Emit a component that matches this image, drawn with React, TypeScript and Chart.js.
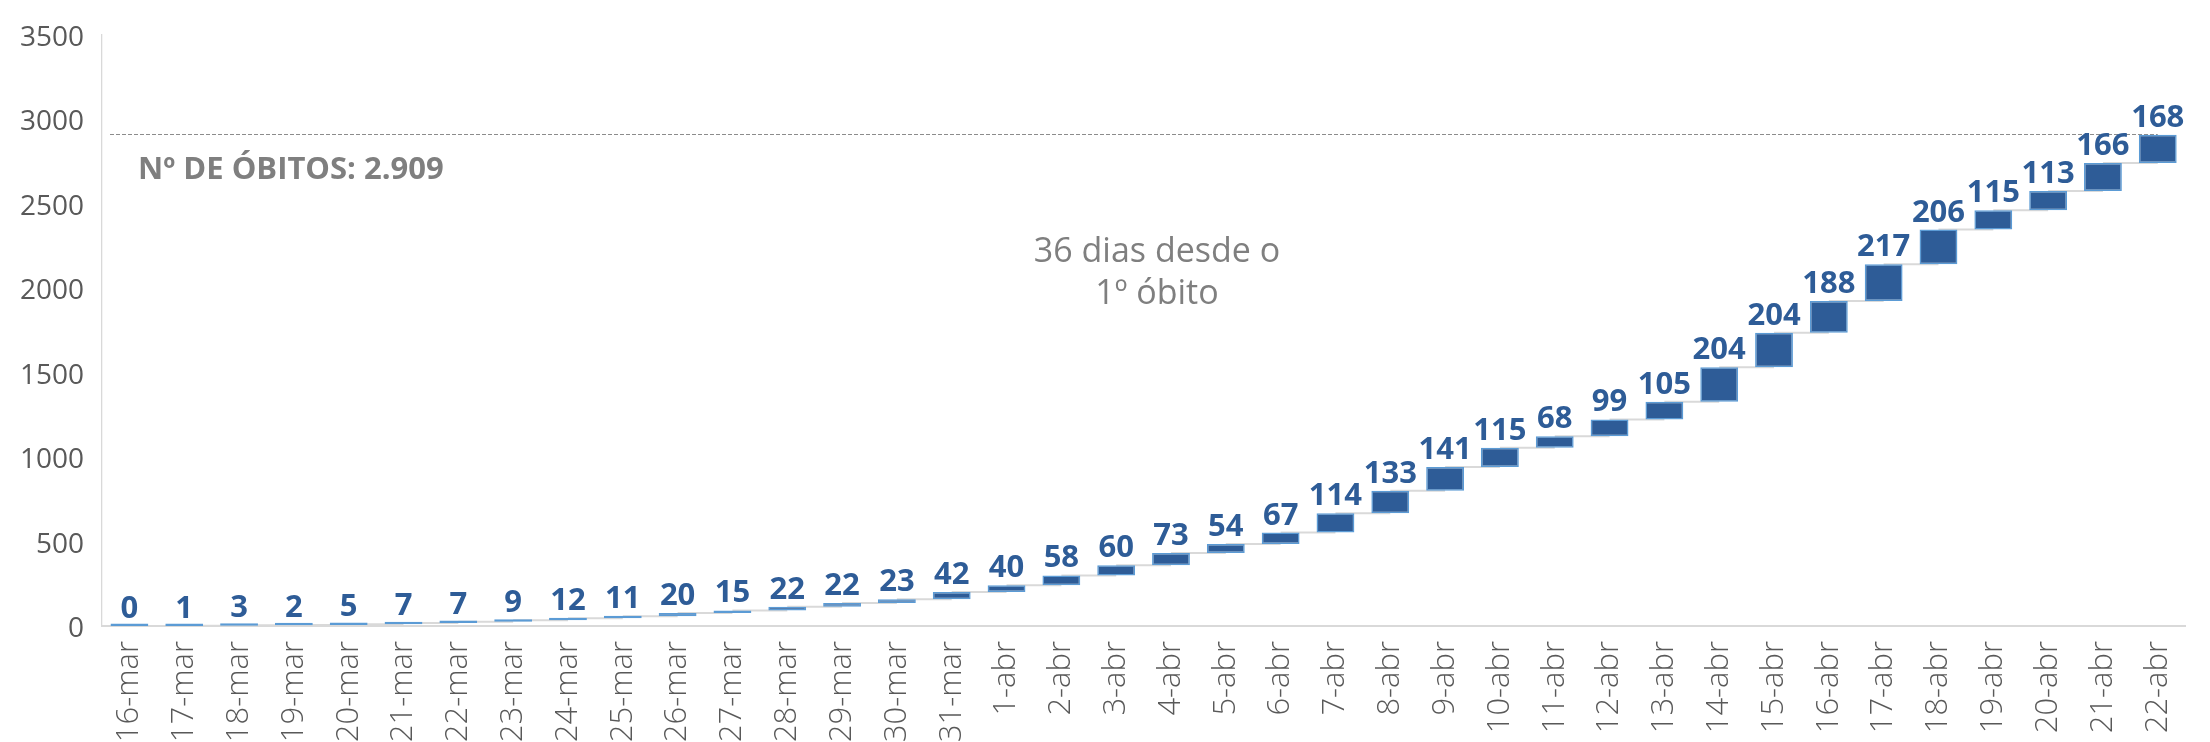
import React, { useEffect, useRef } from "react";
import { Chart, registerables } from "chart.js";

Chart.register(...registerables);

// ---- data ----
const categories: string[] = [
  "16-mar", "17-mar", "18-mar", "19-mar", "20-mar", "21-mar", "22-mar", "23-mar",
  "24-mar", "25-mar", "26-mar", "27-mar", "28-mar", "29-mar", "30-mar", "31-mar",
  "1-abr", "2-abr", "3-abr", "4-abr", "5-abr", "6-abr", "7-abr", "8-abr", "9-abr",
  "10-abr", "11-abr", "12-abr", "13-abr", "14-abr", "15-abr", "16-abr", "17-abr",
  "18-abr", "19-abr", "20-abr", "21-abr", "22-abr",
];
const dailyDeaths: number[] = [
  0, 1, 3, 2, 5, 7, 7, 9, 12, 11, 20, 15, 22, 22, 23, 42,
  40, 58, 60, 73, 54, 67, 114, 133, 141, 115, 68, 99, 105, 204, 204, 188, 217, 206, 115, 113, 166, 168,
];
const yTicks: number[] = [0, 500, 1000, 1500, 2000, 2500, 3000, 3500];
const totalLabel = "Nº DE ÓBITOS: 2.909";
const noteLines: string[] = ["36 dias desde o", "1º óbito"];

// cumulative ranges for the waterfall
const cumulative: number[] = [];
dailyDeaths.reduce((acc, v) => {
  const next = acc + v;
  cumulative.push(next);
  return next;
}, 0);
const floating: [number, number][] = dailyDeaths.map((v, i) => [cumulative[i] - v, cumulative[i]]);
const total = cumulative[cumulative.length - 1];

const FONT = "'Open Sans', 'Noto Sans', sans-serif";
const DARK = "#2E5C97";
const LIGHT = "#5B9BD5";
const GRAY = "#7F7F7F";

const waterfallPlugin = {
  id: "waterfallExtras",
  beforeDatasetsDraw(chart: any) {
    const { ctx, chartArea, scales } = chart;
    const y = scales.y;
    const meta = chart.getDatasetMeta(0);
    ctx.save();
    // connectors
    ctx.strokeStyle = "#D9D9D9";
    ctx.lineWidth = 2;
    for (let i = 0; i < meta.data.length - 1; i++) {
      const py = y.getPixelForValue(cumulative[i]);
      ctx.beginPath();
      ctx.moveTo(meta.data[i].x, py);
      ctx.lineTo(meta.data[i + 1].x, py);
      ctx.stroke();
    }
    // total dashed line
    const ty = Math.round(y.getPixelForValue(total)) - 0.5;
    ctx.strokeStyle = "#8C8C8C";
    ctx.lineWidth = 1.2;
    ctx.setLineDash([4, 2]);
    ctx.beginPath();
    ctx.moveTo(chartArea.left + 8, ty);
    ctx.lineTo(meta.data[meta.data.length - 1].x, ty);
    ctx.stroke();
    ctx.restore();
  },
  afterDatasetsDraw(chart: any) {
    const { ctx, chartArea, scales } = chart;
    const y = scales.y;
    const meta = chart.getDatasetMeta(0);
    ctx.save();
    // data labels
    ctx.fillStyle = DARK;
    ctx.font = `bold 31px ${FONT}`;
    ctx.textAlign = "center";
    ctx.textBaseline = "alphabetic";
    meta.data.forEach((bar: any, i: number) => {
      const top = y.getPixelForValue(cumulative[i]);
      ctx.fillText(String(dailyDeaths[i]), bar.x, top - 8);
    });
    // total label
    ctx.fillStyle = GRAY;
    ctx.font = `bold 31px ${FONT}`;
    ctx.textAlign = "left";
    ctx.fillText(totalLabel, chartArea.left + 36, 179);
    // note
    ctx.font = `34px ${FONT}`;
    ctx.textAlign = "center";
    ctx.fillText(noteLines[0], 1157, 262);
    ctx.fillText(noteLines[1], 1157, 304);
    ctx.restore();
  },
};

export default function App() {
  const canvasRef = useRef<HTMLCanvasElement | null>(null);

  useEffect(() => {
    document.body.style.margin = "0";
    const canvas = canvasRef.current;
    if (!canvas) return;
    const chart = new Chart(canvas, {
      type: "bar",
      data: {
        labels: categories,
        datasets: [
          {
            data: floating as any,
            backgroundColor: DARK,
            borderColor: LIGHT,
            borderWidth: 1.5,
            borderSkipped: false,
            barPercentage: 0.69,
            categoryPercentage: 1,
            minBarLength: 2.5,
          },
        ],
      },
      options: {
        animation: false,
        responsive: false,
        maintainAspectRatio: false,
        layout: { padding: { top: 29, right: 3, left: 0, bottom: 0 } },
        plugins: {
          legend: { display: false },
          tooltip: { enabled: false },
          title: { display: false },
        },
        scales: {
          x: {
            grid: { display: false, drawTicks: false },
            border: { display: true, color: "#D9D9D9", width: 2 },
            ticks: {
              autoSkip: false,
              minRotation: 90,
              maxRotation: 90,
              padding: 15,
              color: "#595959",
              font: { family: FONT, size: 31, weight: "300" as any },
            },
            afterFit(scale: any) {
              scale.height = 116;
            },
          },
          y: {
            min: 0,
            max: 3500,
            afterBuildTicks(scale: any) {
              scale.ticks = yTicks.map((v) => ({ value: v }));
            },
            grid: { display: false, drawTicks: false },
            border: { display: true, color: "#D9D9D9", width: 1.3 },
            ticks: {
              padding: 18,
              labelOffset: 3,
              color: "#595959",
              font: { family: FONT, size: 28 },
              callback: (v: any) => String(v),
            },
            afterFit(scale: any) {
              scale.width = 102;
            },
          },
        },
      },
      plugins: [waterfallPlugin],
    });
    return () => chart.destroy();
  }, []);

  return (
    <div style={{ position: "fixed", left: 0, top: 0, width: 2210, height: 742, background: "#fff" }}>
      <canvas ref={canvasRef} width={2210} height={742} style={{ width: 2210, height: 742 }} />
    </div>
  );
}
